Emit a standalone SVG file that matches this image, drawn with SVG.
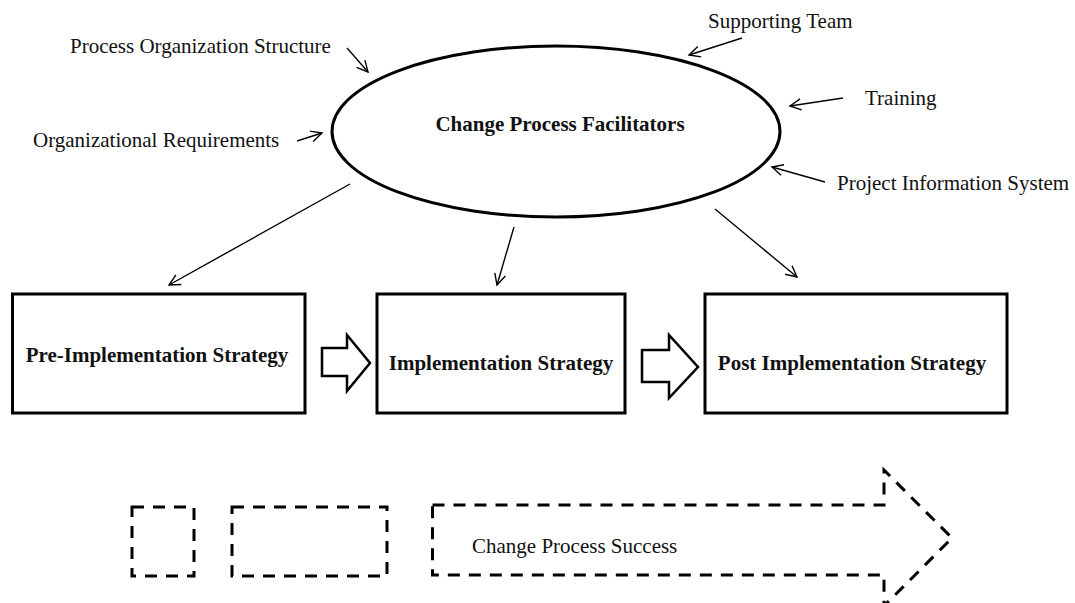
<svg xmlns="http://www.w3.org/2000/svg" width="1075" height="603" viewBox="0 0 1075 603">
<style>
.lbl{font-family:"Liberation Serif","Times New Roman",serif;font-size:21px;fill:#111}
.bold{font-family:"Liberation Serif","Times New Roman",serif;font-size:21px;font-weight:bold;fill:#111}
.box{fill:#fff;stroke:#000;stroke-width:3}
.blk{fill:#fff;stroke:#000;stroke-width:2.5;stroke-linejoin:miter}
.conn{stroke:#000;stroke-width:1.4;fill:none}
.dash{fill:none;stroke:#000;stroke-width:3;stroke-dasharray:12 9}
</style>
<defs>
<marker id="ah" markerWidth="14" markerHeight="14" refX="12" refY="7" orient="auto" markerUnits="userSpaceOnUse">
<path d="M1,1.5 L12,7 L1,12.5" fill="none" stroke="#000" stroke-width="1.4"/>
</marker>
</defs>
<rect width="1075" height="603" fill="#fff"/>
<g id="facilitators">
<ellipse cx="556" cy="131.5" rx="224" ry="85.5" fill="#fff" stroke="#000" stroke-width="3"/>
<text class="bold" x="560" y="131" text-anchor="middle">Change Process Facilitators</text>
</g>
<g id="label-pos"><text class="lbl" x="70" y="53">Process Organization Structure</text></g>
<g id="label-orgreq"><text class="lbl" x="33" y="147">Organizational Requirements</text></g>
<g id="label-team"><text class="lbl" x="708" y="28">Supporting Team</text></g>
<g id="label-training"><text class="lbl" x="865" y="105">Training</text></g>
<g id="label-pis"><text class="lbl" x="837" y="190">Project Information System</text></g>
<g id="pre">
<rect class="box" x="12.5" y="294" width="292.5" height="119"/>
<text class="bold" x="157" y="362" text-anchor="middle">Pre-Implementation Strategy</text>
</g>
<g id="impl">
<rect class="box" x="377" y="294" width="248" height="119"/>
<text class="bold" x="501" y="370" text-anchor="middle">Implementation Strategy</text>
</g>
<g id="post">
<rect class="box" x="705" y="294" width="302" height="119"/>
<text class="bold" x="852" y="370" text-anchor="middle">Post Implementation Strategy</text>
</g>
<g id="block-arrows">
<polygon class="blk" points="322,348 347,348 347,335 370,363 347,391 347,376 322,376"/>
<polygon class="blk" points="642,350 669,350 669,335 698,367 669,398 669,382 642,382"/>
</g>
<g id="connectors">
<line class="conn" x1="347" y1="48" x2="368" y2="72" marker-end="url(#ah)"/>
<line class="conn" x1="297" y1="141" x2="322" y2="133" marker-end="url(#ah)"/>
<line class="conn" x1="742" y1="38" x2="689" y2="55" marker-end="url(#ah)"/>
<line class="conn" x1="843" y1="98" x2="790" y2="106" marker-end="url(#ah)"/>
<line class="conn" x1="825" y1="182" x2="772" y2="167" marker-end="url(#ah)"/>
<line class="conn" x1="350" y1="184" x2="169" y2="285" marker-end="url(#ah)"/>
<line class="conn" x1="514" y1="227" x2="497" y2="285" marker-end="url(#ah)"/>
<line class="conn" x1="715" y1="209" x2="797" y2="277" marker-end="url(#ah)"/>
</g>
<g id="dashed-small"><rect class="dash" x="132" y="507" width="62" height="69"/></g>
<g id="dashed-mid"><rect class="dash" x="232" y="507" width="155" height="69"/></g>
<g id="success">
<polygon class="dash" points="432.5,505 884,505 884,470 952,538 884,606 884,575 432.5,575"/>
<text class="lbl" x="472" y="553">Change Process Success</text>
</g>
</svg>
